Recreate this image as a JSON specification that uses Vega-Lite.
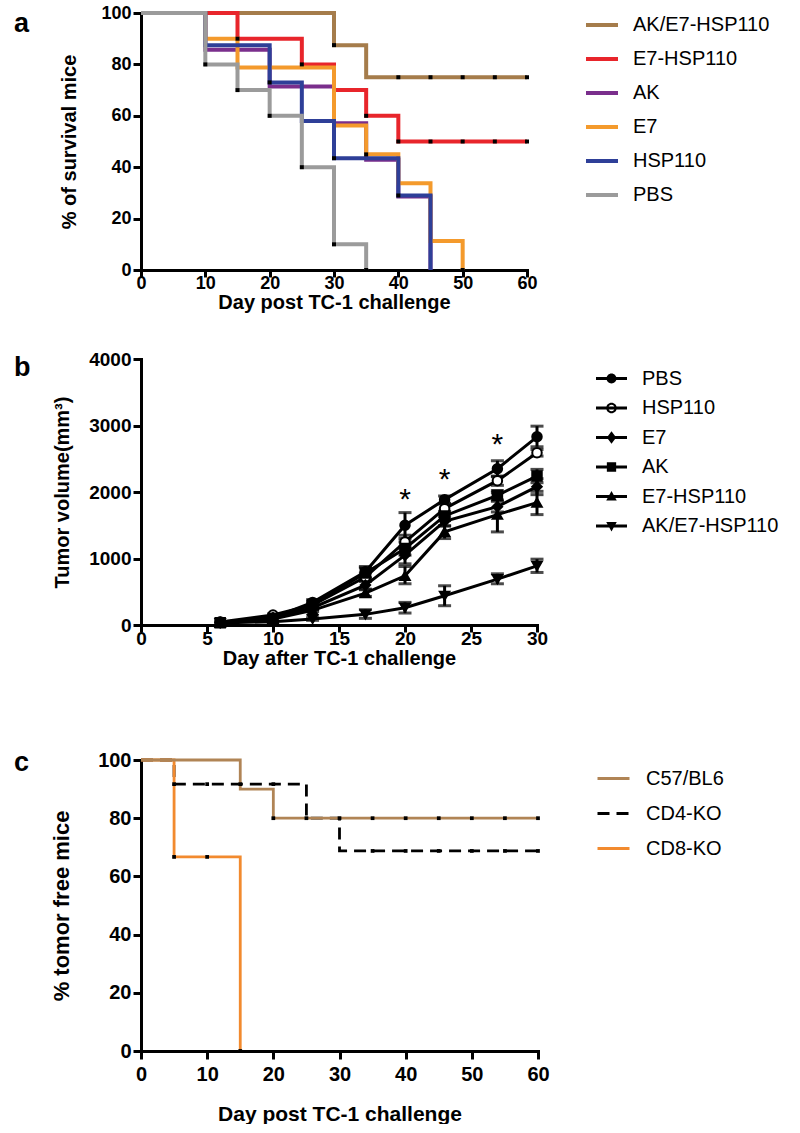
{
  "$schema": "https://vega.github.io/schema/vega-lite/v6.json",
  "padding": {"left": 14, "top": 4, "right": 0, "bottom": 0},
  "config": {
    "font": "Liberation Sans",
    "view": {"stroke": null},
    "axis": {"domainColor": "black", "domainWidth": 3, "domainCap": "square", "tickColor": "black", "tickWidth": 3, "tickSize": 8, "grid": false,
      "labelFont": "Liberation Sans", "labelFontWeight": "bold", "labelColor": "black", "labelFontSize": 18, "labelPadding": 2, "labelFlush": false, "labelOverlap": false,
      "titleFont": "Liberation Sans", "titleFontWeight": "bold", "titleColor": "black", "titleFontSize": 20},
    "legend": {"labelFont": "Liberation Sans", "labelFontSize": 20, "labelColor": "black", "padding": 0},
    "title": {"font": "Liberation Sans", "fontWeight": "bold", "fontSize": 27, "color": "black", "anchor": "start", "frame": "group", "offset": 0, "baseline": "alphabetic"}
  },
  "resolve": {
    "scale": {"color": "independent", "shape": "independent", "strokeDash": "independent"},
    "legend": {"color": "independent", "shape": "independent", "strokeDash": "independent"}
  },
  "datasets": {
    "surv": [
      {"g": "AK/E7-HSP110", "day": 0, "v": 100}, {"g": "AK/E7-HSP110", "day": 30, "v": 87.5}, {"g": "AK/E7-HSP110", "day": 35, "v": 75}, {"g": "AK/E7-HSP110", "day": 60, "v": 75},
      {"g": "E7-HSP110", "day": 0, "v": 100}, {"g": "E7-HSP110", "day": 15, "v": 90}, {"g": "E7-HSP110", "day": 25, "v": 80}, {"g": "E7-HSP110", "day": 30, "v": 70}, {"g": "E7-HSP110", "day": 35, "v": 60}, {"g": "E7-HSP110", "day": 40, "v": 50}, {"g": "E7-HSP110", "day": 60, "v": 50},
      {"g": "AK", "day": 0, "v": 100}, {"g": "AK", "day": 10, "v": 85.7}, {"g": "AK", "day": 20, "v": 71.4}, {"g": "AK", "day": 30, "v": 57.1}, {"g": "AK", "day": 35, "v": 42.9}, {"g": "AK", "day": 40, "v": 28.6}, {"g": "AK", "day": 45, "v": 0},
      {"g": "E7", "day": 0, "v": 100}, {"g": "E7", "day": 10, "v": 90}, {"g": "E7", "day": 15, "v": 78.75}, {"g": "E7", "day": 30, "v": 56.25}, {"g": "E7", "day": 35, "v": 45}, {"g": "E7", "day": 40, "v": 33.75}, {"g": "E7", "day": 45, "v": 11.25}, {"g": "E7", "day": 50, "v": 0},
      {"g": "HSP110", "day": 0, "v": 100}, {"g": "HSP110", "day": 10, "v": 87.5}, {"g": "HSP110", "day": 20, "v": 73}, {"g": "HSP110", "day": 25, "v": 58}, {"g": "HSP110", "day": 30, "v": 43.5}, {"g": "HSP110", "day": 40, "v": 29}, {"g": "HSP110", "day": 45, "v": 0},
      {"g": "PBS", "day": 0, "v": 100}, {"g": "PBS", "day": 10, "v": 80}, {"g": "PBS", "day": 15, "v": 70}, {"g": "PBS", "day": 20, "v": 60}, {"g": "PBS", "day": 25, "v": 40}, {"g": "PBS", "day": 30, "v": 10}, {"g": "PBS", "day": 35, "v": 0}
    ],
    "survTicks": [
      {"day": 30, "v": 87.5}, {"day": 40, "v": 75}, {"day": 45, "v": 75}, {"day": 50, "v": 75}, {"day": 55, "v": 75}, {"day": 60, "v": 75},
      {"day": 15, "v": 90}, {"day": 25, "v": 80}, {"day": 35, "v": 60}, {"day": 40, "v": 50}, {"day": 45, "v": 50}, {"day": 50, "v": 50}, {"day": 55, "v": 50}, {"day": 60, "v": 50},
      {"day": 10, "v": 80}, {"day": 15, "v": 70}, {"day": 20, "v": 60}, {"day": 25, "v": 40}, {"day": 30, "v": 10}, {"day": 35, "v": 0},
      {"day": 20, "v": 73}, {"day": 30, "v": 43.5}, {"day": 40, "v": 29},
      {"day": 35, "v": 45}, {"day": 50, "v": 0}
    ],
    "tumor": [
      {"g": "PBS", "day": 6, "v": 40, "lo": null, "hi": null}, {"g": "PBS", "day": 10, "v": 110, "lo": null, "hi": null}, {"g": "PBS", "day": 13, "v": 340, "lo": 300, "hi": 380}, {"g": "PBS", "day": 17, "v": 800, "lo": 720, "hi": 880}, {"g": "PBS", "day": 20, "v": 1500, "lo": 1300, "hi": 1690}, {"g": "PBS", "day": 23, "v": 1885, "lo": 1830, "hi": 1940}, {"g": "PBS", "day": 27, "v": 2350, "lo": 2230, "hi": 2470}, {"g": "PBS", "day": 30, "v": 2830, "lo": 2680, "hi": 2990},
      {"g": "HSP110", "day": 6, "v": 45, "lo": null, "hi": null}, {"g": "HSP110", "day": 10, "v": 150, "lo": null, "hi": null}, {"g": "HSP110", "day": 13, "v": 300, "lo": 270, "hi": 330}, {"g": "HSP110", "day": 17, "v": 720, "lo": 660, "hi": 780}, {"g": "HSP110", "day": 20, "v": 1250, "lo": 1150, "hi": 1350}, {"g": "HSP110", "day": 23, "v": 1750, "lo": 1680, "hi": 1820}, {"g": "HSP110", "day": 27, "v": 2170, "lo": 2100, "hi": 2240}, {"g": "HSP110", "day": 30, "v": 2590, "lo": 2540, "hi": 2640},
      {"g": "E7", "day": 6, "v": 35, "lo": null, "hi": null}, {"g": "E7", "day": 10, "v": 110, "lo": null, "hi": null}, {"g": "E7", "day": 13, "v": 260, "lo": 230, "hi": 290}, {"g": "E7", "day": 17, "v": 600, "lo": 540, "hi": 660}, {"g": "E7", "day": 20, "v": 1050, "lo": 920, "hi": 1180}, {"g": "E7", "day": 23, "v": 1560, "lo": 1490, "hi": 1630}, {"g": "E7", "day": 27, "v": 1780, "lo": 1700, "hi": 1860}, {"g": "E7", "day": 30, "v": 2080, "lo": 1960, "hi": 2200},
      {"g": "AK", "day": 6, "v": 35, "lo": null, "hi": null}, {"g": "AK", "day": 10, "v": 100, "lo": null, "hi": null}, {"g": "AK", "day": 13, "v": 310, "lo": 270, "hi": 350}, {"g": "AK", "day": 17, "v": 780, "lo": 700, "hi": 860}, {"g": "AK", "day": 20, "v": 1150, "lo": 1050, "hi": 1250}, {"g": "AK", "day": 23, "v": 1640, "lo": 1570, "hi": 1710}, {"g": "AK", "day": 27, "v": 1950, "lo": 1880, "hi": 2020}, {"g": "AK", "day": 30, "v": 2240, "lo": 2140, "hi": 2340},
      {"g": "E7-HSP110", "day": 6, "v": 30, "lo": null, "hi": null}, {"g": "E7-HSP110", "day": 10, "v": 90, "lo": null, "hi": null}, {"g": "E7-HSP110", "day": 13, "v": 220, "lo": 200, "hi": 240}, {"g": "E7-HSP110", "day": 17, "v": 480, "lo": 430, "hi": 530}, {"g": "E7-HSP110", "day": 20, "v": 740, "lo": 620, "hi": 880}, {"g": "E7-HSP110", "day": 23, "v": 1400, "lo": 1300, "hi": 1490}, {"g": "E7-HSP110", "day": 27, "v": 1660, "lo": 1400, "hi": 1990}, {"g": "E7-HSP110", "day": 30, "v": 1840, "lo": 1660, "hi": 2010},
      {"g": "AK/E7-HSP110", "day": 6, "v": 30, "lo": null, "hi": null}, {"g": "AK/E7-HSP110", "day": 10, "v": 50, "lo": null, "hi": null}, {"g": "AK/E7-HSP110", "day": 13, "v": 90, "lo": 70, "hi": 110}, {"g": "AK/E7-HSP110", "day": 17, "v": 160, "lo": 100, "hi": 230}, {"g": "AK/E7-HSP110", "day": 20, "v": 260, "lo": 180, "hi": 340}, {"g": "AK/E7-HSP110", "day": 23, "v": 440, "lo": 290, "hi": 590}, {"g": "AK/E7-HSP110", "day": 27, "v": 690, "lo": 620, "hi": 770}, {"g": "AK/E7-HSP110", "day": 30, "v": 890, "lo": 790, "hi": 990}
    ],
    "stars": [{"day": 20, "v": 2000, "t": "*"}, {"day": 23, "v": 2300, "t": "*"}, {"day": 27, "v": 2830, "t": "*"}],
    "free": [
      {"g": "CD4-KO", "day": 0, "v": 100}, {"g": "CD4-KO", "day": 5, "v": 91.7}, {"g": "CD4-KO", "day": 25, "v": 80}, {"g": "CD4-KO", "day": 30, "v": 68.75}, {"g": "CD4-KO", "day": 60, "v": 68.75},
      {"g": "CD8-KO", "day": 0, "v": 100}, {"g": "CD8-KO", "day": 5, "v": 66.7}, {"g": "CD8-KO", "day": 15, "v": 0},
      {"g": "C57/BL6", "day": 0, "v": 100}, {"g": "C57/BL6", "day": 15, "v": 90}, {"g": "C57/BL6", "day": 20, "v": 80}, {"g": "C57/BL6", "day": 60, "v": 80}
    ],
    "freeTicks": [
      {"day": 20, "v": 80}, {"day": 30, "v": 80}, {"day": 35, "v": 80}, {"day": 40, "v": 80}, {"day": 45, "v": 80}, {"day": 50, "v": 80}, {"day": 55, "v": 80}, {"day": 60, "v": 80},
      {"day": 5, "v": 91.7}, {"day": 10, "v": 91.7}, {"day": 15, "v": 91.7}, {"day": 20, "v": 91.7}, {"day": 25, "v": 80}, {"day": 35, "v": 68.75}, {"day": 40, "v": 68.75}, {"day": 45, "v": 68.75}, {"day": 50, "v": 68.75}, {"day": 55, "v": 68.75}, {"day": 60, "v": 68.75},
      {"day": 5, "v": 66.7}, {"day": 10, "v": 66.7}, {"day": 15, "v": 0}
    ]
  },
  "spacing": 81,
  "vconcat": [
    {
      "spacing": 38,
      "resolve": {
        "scale": {"color": "independent", "shape": "independent"},
        "legend": {"color": "independent", "shape": "independent"}
      },
      "vconcat": [
        {
          "width": 386, "height": 257,
          "title": {"text": "a", "dx": -127, "dy": 38},
          "layer": [
            {
              "data": {"name": "surv"},
              "mark": {"type": "line", "interpolate": "step-after", "strokeWidth": 4},
              "encoding": {
                "x": {"field": "day", "type": "quantitative", "scale": {"domain": [0, 60], "nice": false},
                  "axis": {"title": "Day post TC-1 challenge", "values": [0, 10, 20, 30, 40, 50, 60], "tickSize": 7, "labelPadding": -3, "titlePadding": 0}},
                "y": {"field": "v", "type": "quantitative", "scale": {"domain": [0, 100], "nice": false},
                  "axis": {"title": "% of survival mice", "values": [0, 20, 40, 60, 80, 100], "titlePadding": 21}},
                "color": {"field": "g", "type": "nominal",
                  "scale": {"domain": ["AK/E7-HSP110", "E7-HSP110", "AK", "E7", "HSP110", "PBS"], "range": ["#A57C4B", "#E8252B", "#7A2E8C", "#F49A2C", "#2E3F98", "#9B9B9B"]},
                  "legend": {"title": null, "orient": "none", "legendX": 443, "legendY": -6, "symbolType": "stroke", "symbolSize": 1024, "symbolStrokeWidth": 4, "labelOffset": 13, "rowPadding": 6}}
              }
            },
            {
              "data": {"name": "survTicks"},
              "mark": {"type": "point", "shape": "square", "filled": true, "color": "black", "size": 16, "opacity": 1},
              "encoding": {"x": {"field": "day", "type": "quantitative"}, "y": {"field": "v", "type": "quantitative"}}
            }
          ]
        },
        {
          "width": 396, "height": 266,
          "title": {"text": "b", "dx": -127, "dy": 36},
          "resolve": {"scale": {"shape": "independent"}},
          "layer": [
            {
              "data": {"name": "tumor"},
              "mark": {"type": "line", "strokeWidth": 3, "color": "black"},
              "encoding": {
                "x": {"field": "day", "type": "quantitative", "scale": {"domain": [0, 30], "nice": false},
                  "axis": {"title": "Day after TC-1 challenge", "values": [0, 5, 10, 15, 20, 25, 30], "tickSize": 7, "labelPadding": -3, "labelFontSize": 19, "titlePadding": 0}},
                "y": {"field": "v", "type": "quantitative", "title": "Tumor volume(mm³)", "scale": {"domain": [0, 4000], "nice": false},
                  "axis": {"format": "d", "values": [0, 500, 1000, 1500, 2000, 2500, 3000, 3500, 4000], "labelFontSize": 19, "titlePadding": 16}},
                "detail": {"field": "g", "type": "nominal"}
              }
            },
            {
              "data": {"name": "tumor"},
              "mark": {"type": "errorbar", "color": "black", "thickness": 3, "ticks": {"size": 13, "thickness": 3, "color": "black"}, "rule": {"strokeWidth": 3, "color": "black"}},
              "encoding": {
                "x": {"field": "day", "type": "quantitative"},
                "y": {"field": "lo", "type": "quantitative", "title": "Tumor volume(mm³)"},
                "y2": {"field": "hi"}
              }
            },
            {
              "data": {"name": "tumor"},
              "mark": {"type": "point", "size": 90, "stroke": "black", "strokeWidth": 2, "opacity": 1, "filled": true},
              "encoding": {
                "x": {"field": "day", "type": "quantitative"},
                "y": {"field": "v", "type": "quantitative", "title": "Tumor volume(mm³)"},
                "fill": {"field": "g", "type": "nominal",
                  "scale": {"domain": ["PBS", "HSP110", "E7", "AK", "E7-HSP110", "AK/E7-HSP110"], "range": ["black", "white", "black", "black", "black", "black"]},
                  "legend": null},
                "shape": {"field": "g", "type": "nominal",
                  "scale": {"domain": ["PBS", "HSP110", "E7", "AK", "E7-HSP110", "AK/E7-HSP110"], "range": ["circle", "circle", "diamond", "square", "triangle-up", "triangle-down"]},
                  "legend": null}
              }
            },
            {
              "data": {"name": "tumor"},
              "transform": [{"filter": "datum.day > 1000"}],
              "mark": {"type": "point", "size": 90, "filled": true, "color": "black", "opacity": 1},
              "encoding": {
                "x": {"field": "day", "type": "quantitative"},
                "y": {"field": "v", "type": "quantitative", "title": "Tumor volume(mm³)"},
                "shape": {"field": "g", "type": "nominal",
                  "scale": {"domain": ["PBS", "HSP110", "E7", "AK", "E7-HSP110", "AK/E7-HSP110"],
                    "range": [
                      "M-1,-0.1H1V0.1H-1ZM-0.32,0A0.32,0.32,0,1,1,0.32,0A0.32,0.32,0,1,1,-0.32,0Z",
                      "M-1,-0.1H1V0.1H-1ZM-0.34,0A0.34,0.34,0,1,1,0.34,0A0.34,0.34,0,1,1,-0.34,0ZM-0.21,0A0.21,0.21,0,1,0,0.21,0A0.21,0.21,0,1,0,-0.21,0Z",
                      "M-1,-0.1H1V0.1H-1ZM0,-0.4L0.3,0L0,0.4L-0.3,0Z",
                      "M-1,-0.1H1V0.1H-1ZM-0.3,-0.3H0.3V0.3H-0.3Z",
                      "M-1,-0.1H1V0.1H-1ZM0,-0.36L0.34,0.26H-0.34Z",
                      "M-1,-0.1H1V0.1H-1ZM0,0.36L-0.34,-0.26H0.34Z"
                    ]},
                  "legend": {"title": null, "orient": "none", "legendX": 455, "legendY": 4, "symbolSize": 961, "symbolStrokeWidth": 0, "labelOffset": 15, "rowPadding": 3.5}}
              }
            },
            {
              "data": {"name": "stars"},
              "mark": {"type": "text", "fontSize": 30, "baseline": "alphabetic", "dy": 17, "color": "black", "font": "Liberation Sans"},
              "encoding": {
                "x": {"field": "day", "type": "quantitative"},
                "y": {"field": "v", "type": "quantitative"},
                "text": {"field": "t"}
              }
            }
          ]
        }
      ]
    },
    {
      "width": 397, "height": 291,
      "title": {"text": "c", "dx": -127, "dy": 31},
      "layer": [
        {
          "data": {"name": "free"},
          "mark": {"type": "line", "interpolate": "step-after", "strokeWidth": 2.8},
          "encoding": {
            "x": {"field": "day", "type": "quantitative", "scale": {"domain": [0, 60], "nice": false},
              "axis": {"title": "Day post TC-1 challenge", "values": [0, 10, 20, 30, 40, 50, 60], "labelFontSize": 20, "titleFontSize": 21, "labelPadding": 5, "titlePadding": 19}},
            "y": {"field": "v", "type": "quantitative", "scale": {"domain": [0, 100], "nice": false},
              "axis": {"title": "% tomor free mice", "values": [0, 20, 40, 60, 80, 100], "labelFontSize": 20, "titleFontSize": 22, "titlePadding": 24}},
            "color": {"field": "g", "type": "nominal",
              "scale": {"domain": ["C57/BL6", "CD4-KO", "CD8-KO"], "range": ["#B08455", "#000000", "#F28A2E"]},
              "legend": {"title": null, "orient": "none", "legendX": 455, "legendY": 1, "symbolType": "stroke", "symbolSize": 1024, "symbolStrokeWidth": 3, "labelOffset": 15, "rowPadding": 7}},
            "strokeDash": {"field": "g", "type": "nominal",
              "scale": {"domain": ["C57/BL6", "CD4-KO", "CD8-KO"], "range": [[1, 0], [12, 7], [1, 0]]},
              "legend": {"title": null, "orient": "none", "legendX": 455, "legendY": 1, "symbolType": "stroke", "symbolSize": 1024, "symbolStrokeWidth": 3, "labelOffset": 15, "rowPadding": 7}}
          }
        },
        {
          "data": {"name": "freeTicks"},
          "mark": {"type": "point", "shape": "square", "filled": true, "color": "black", "size": 14, "opacity": 1},
          "encoding": {"x": {"field": "day", "type": "quantitative"}, "y": {"field": "v", "type": "quantitative"}}
        }
      ]
    }
  ]
}
